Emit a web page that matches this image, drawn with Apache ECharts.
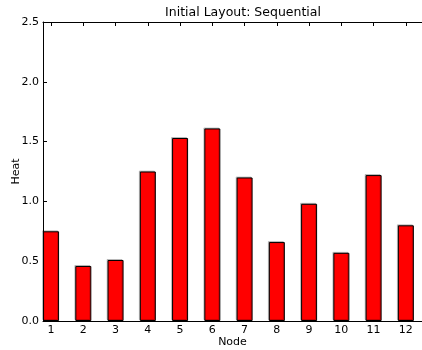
<!DOCTYPE html>
<html>
<head>
<meta charset="utf-8">
<script src="https://cdn.jsdelivr.net/npm/echarts@6/dist/echarts.min.js"></script>
<style>
  html, body { margin: 0; padding: 0; background: #fff; }
  #main { width: 422px; height: 350px; }
</style>
</head>
<body>
<div id="main"></div>
<script>
// 节点编号
const nodes = [1, 2, 3, 4, 5, 6, 7, 8, 9, 10, 11, 12];
// 热量值
const heat = [0.75, 0.46, 0.51, 1.25, 1.53, 1.61, 1.20, 0.66, 0.98, 0.57, 1.22, 0.80];
// Y轴刻度
const yTicks = [0, 0.5, 1.0, 1.5, 2.0, 2.5];

const font = 'DejaVu Sans';
const chart = echarts.init(document.getElementById('main'), null, { renderer: 'canvas' });

chart.setOption({
	animation: false,
	title: {
		text: 'Initial Layout: Sequential',
		left: 238,
		top: 1,
		textAlign: 'center',
		textStyle: { fontFamily: font, fontSize: 12.5, fontWeight: 'normal', color: '#000' }
	},
	grid: { left: 43, right: 0, top: 22, bottom: 29, containLabel: false, outerBoundsMode: 'none' },
	xAxis: [
		{
			type: 'value',
			min: 0.75,
			max: 12.5,
			name: 'Node',
			nameLocation: 'middle',
			nameGap: 16,
			nameMoveOverlap: false,
			nameTextStyle: { fontFamily: font, fontSize: 11, color: '#000' },
			axisLine: { lineStyle: { color: '#000', width: 1 } },
			axisTick: { inside: true, length: 4, customValues: nodes, lineStyle: { color: '#000' } },
			axisLabel: { customValues: nodes, fontFamily: font, fontSize: 11, color: '#000', margin: 4 },
			splitLine: { show: false }
		},
		{
			type: 'value',
			position: 'top',
			min: 0.75,
			max: 12.5,
			axisLine: { show: true, lineStyle: { color: '#000', width: 1 } },
			axisTick: { show: true, inside: true, length: 4, customValues: nodes, lineStyle: { color: '#000' } },
			axisLabel: { show: false },
			splitLine: { show: false }
		}
	],
	yAxis: {
		type: 'value',
		min: 0,
		max: 2.5,
		interval: 0.5,
		name: 'Heat',
		nameLocation: 'middle',
		nameGap: 21,
		nameMoveOverlap: false,
		nameTextStyle: { fontFamily: font, fontSize: 11, color: '#000' },
		axisLine: { show: true, lineStyle: { color: '#000', width: 1 } },
		axisTick: { show: true, inside: true, length: 4, lineStyle: { color: '#000' } },
		axisLabel: {
			fontFamily: font, fontSize: 11, color: '#000', margin: 4,
			formatter: (v) => yTicks.includes(v) ? v.toFixed(1) : ''
		},
		splitLine: { show: false }
	},
	series: [
		{
			type: 'bar',
			barWidth: 16,
			data: nodes.map((n, i) => [n, heat[i]]),
			itemStyle: {
				color: '#ff0000',
				borderColor: '#000',
				borderWidth: 1,
				shadowColor: 'rgba(0,0,0,0.2)',
				shadowOffsetX: -1,
				shadowOffsetY: -1
			}
		}
	]
});
</script>
</body>
</html>
